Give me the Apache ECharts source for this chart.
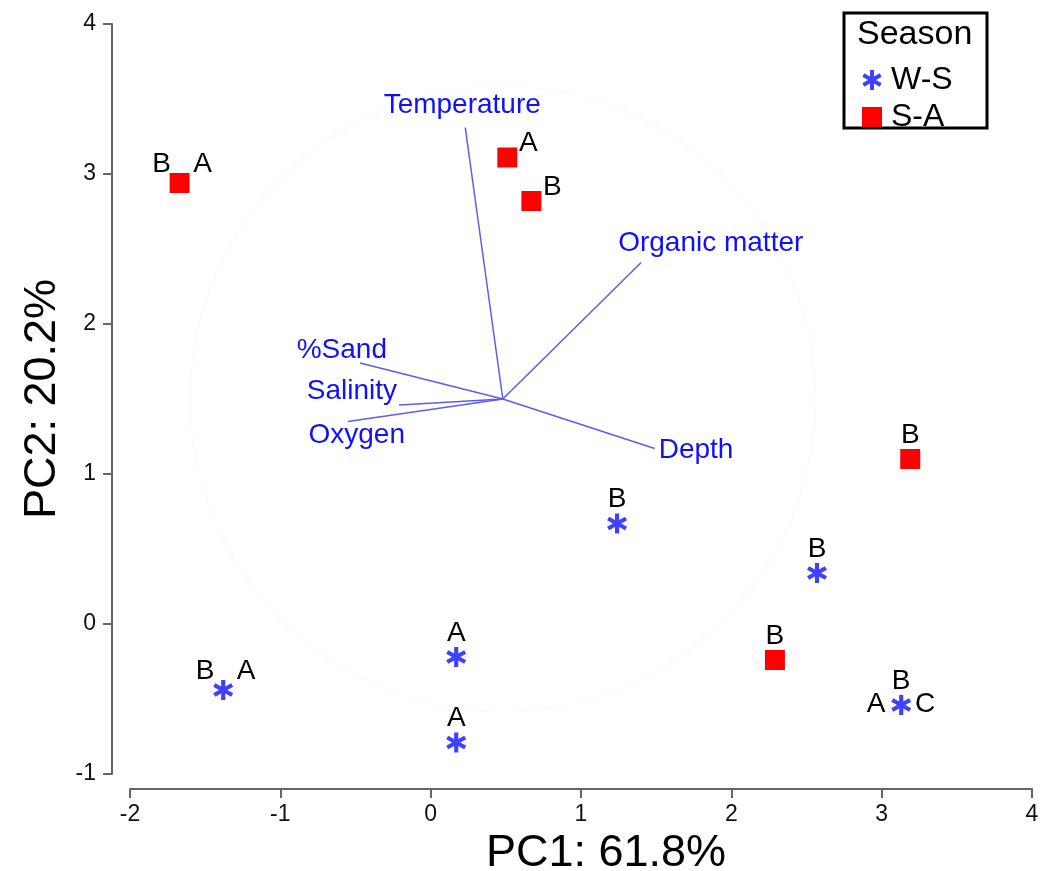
<!DOCTYPE html>
<html>
<head>
<meta charset="utf-8">
<script src="https://cdn.jsdelivr.net/npm/echarts@6/dist/echarts.min.js"></script>
<style>
  html, body { margin: 0; padding: 0; background: #fff; }
  #chart { width: 1054px; height: 871px; }
</style>
</head>
<body>
<div id="chart"></div>
<script>
var FONT = 'Liberation Sans, Arial, sans-serif';

// axis ranges (ticks every 1)
var xRange = [-2, 4];
var yRange = [-1, 4];

// S-A samples (red squares)
var saPoints = [[-1.67, 2.94], [0.51, 3.11], [0.67, 2.82], [3.19, 1.10], [2.29, -0.24]];
var saLabels = [[['B', 'tl'], ['A', 'tr']], [['A', 'ne']], [['B', 'ne']], [['B', 't']], [['B', 't']]];

// W-S samples (blue asterisks)
var wsPoints = [[-1.38, -0.44], [0.17, -0.22], [0.17, -0.79], [1.24, 0.67], [2.57, 0.34], [3.13, -0.54]];
var wsLabels = [[['B', 'tl'], ['A', 'tr']], [['A', 't']], [['A', 't']], [['B', 't']], [['B', 't']], [['A', 'l'], ['B', 't'], ['C', 'r']]];

// environmental vectors
var vecOrigin = [0.48, 1.50];
var vecNames = ['Temperature', 'Organic matter', 'Depth', '%Sand', 'Salinity', 'Oxygen'];
var vecEnds = [[0.23, 3.31], [1.40, 2.41], [1.49, 1.17], [-0.47, 1.74], [-0.21, 1.46], [-0.55, 1.35]];
var circleRadius = 2.08;

// label placement styles (px offsets)
var labelOffsets = { tl: [-18, -19], tr: [23, -19], ne: [21, -14], t: [0, -24], l: [-25, -1], r: [24, -1] };
var vecLabelStyle = {
  'Temperature': { align: 'center', dx: -3, dy: -22 },
  'Organic matter': { align: 'left', dx: -23, dy: -19 },
  'Depth': { align: 'left', dx: 4, dy: 2 },
  '%Sand': { align: 'right', dx: 27, dy: -13 },
  'Salinity': { align: 'right', dx: -2, dy: -14 },
  'Oxygen': { align: 'right', dx: 57, dy: 14 }
};

var asterisk = 'path://M8 20L12 20L12 0L8 0Z M17.66 16.73L19.66 13.27L2.34 3.27L0.34 6.73Z M0.34 13.27L2.34 16.73L19.66 6.73L17.66 3.27Z';

var chart = echarts.init(document.getElementById('chart'));

function pointLabelSeries(points, labels) {
  return {
    type: 'custom',
    silent: true,
    z: 5,
    data: points.map(function (p, i) { return [p[0], p[1], i]; }),
    renderItem: function (params, api) {
      var c = api.coord([api.value(0), api.value(1)]);
      var list = labels[api.value(2)];
      return {
        type: 'group',
        children: list.map(function (l) {
          var off = labelOffsets[l[1]];
          return {
            type: 'text',
            style: {
              x: c[0] + off[0], y: c[1] + off[1], text: l[0],
              font: '28px ' + FONT, fill: '#000',
              align: 'center', verticalAlign: 'middle'
            }
          };
        })
      };
    }
  };
}

var option = {
  backgroundColor: '#fff',
  animation: false,
  grid: { left: 130, right: 22, top: 24, bottom: 97, outerBoundsMode: 'none' },
  xAxis: {
    type: 'value', min: xRange[0], max: xRange[1], interval: 1,
    offset: 15,
    name: 'PC1: 61.8%', nameLocation: 'middle', nameGap: 40,
    nameTextStyle: { fontFamily: FONT, fontSize: 45, color: '#000', padding: [0, 0, 0, 50] },
    axisLine: { show: true, onZero: false, lineStyle: { color: '#666', width: 2 } },
    axisTick: { show: true, length: 9, lineStyle: { color: '#666', width: 2 } },
    axisLabel: { fontFamily: FONT, fontSize: 23, color: '#111', margin: 14 },
    splitLine: { show: false }
  },
  yAxis: {
    type: 'value', min: yRange[0], max: yRange[1], interval: 1,
    offset: 18,
    name: 'PC2: 20.2%', nameLocation: 'middle', nameGap: 44,
    nameTextStyle: { fontFamily: FONT, fontSize: 45, color: '#000' },
    axisLine: { show: true, onZero: false, lineStyle: { color: '#666', width: 2 } },
    axisTick: { show: true, length: 9, lineStyle: { color: '#666', width: 2 } },
    axisLabel: { fontFamily: FONT, fontSize: 23, color: '#111', margin: 16 },
    splitLine: { show: false }
  },
  legend: {
    orient: 'vertical', left: 857, top: 59,
    itemWidth: 20, itemHeight: 20, itemGap: 5,
    textStyle: { fontFamily: FONT, fontSize: 32, color: '#000', lineHeight: 31, padding: [0, 0, 0, 4] },
    data: ['W-S', 'S-A']
  },
  graphic: [
    {
      type: 'rect', z: -1,
      shape: { x: 844, y: 13, width: 143, height: 115 },
      style: { fill: '#fff', stroke: '#000', lineWidth: 3 }
    },
    {
      type: 'text', left: 857, top: 18,
      style: { text: 'Season', font: '34px ' + FONT, fill: '#000' }
    }
  ],
  series: [
    {
      // faint correlation circle
      type: 'custom', silent: true, z: 1,
      data: [[vecOrigin[0], vecOrigin[1]]],
      renderItem: function (params, api) {
        var c = api.coord([api.value(0), api.value(1)]);
        var r = api.size([circleRadius, 0])[0];
        return { type: 'circle', shape: { cx: c[0], cy: c[1], r: r }, style: { fill: 'none', stroke: '#fbfbfb', lineWidth: 1.5 } };
      }
    },
    {
      // vectors
      type: 'custom', silent: true, z: 2,
      data: vecEnds.map(function (e, i) { return [e[0], e[1], i]; }),
      renderItem: function (params, api) {
        var o = api.coord(vecOrigin);
        var e = api.coord([api.value(0), api.value(1)]);
        var name = vecNames[api.value(2)];
        var s = vecLabelStyle[name];
        return {
          type: 'group',
          children: [
            { type: 'line', shape: { x1: o[0], y1: o[1], x2: e[0], y2: e[1] }, style: { stroke: '#5c5cf0', lineWidth: 1.5 } },
            { type: 'text', style: { x: e[0] + s.dx, y: e[1] + s.dy, text: name, font: '28px ' + FONT, fill: '#1010ff', align: s.align, verticalAlign: 'middle' } }
          ]
        };
      }
    },
    {
      name: 'W-S', type: 'scatter', z: 4,
      symbol: asterisk, symbolSize: 20,
      itemStyle: { color: '#4040ff', opacity: 1 },
      data: wsPoints
    },
    {
      name: 'S-A', type: 'scatter', z: 4,
      symbol: 'rect', symbolSize: 20,
      itemStyle: { color: '#ff0000', opacity: 1 },
      data: saPoints
    },
    pointLabelSeries(wsPoints, wsLabels),
    pointLabelSeries(saPoints, saLabels)
  ]
};

chart.setOption(option);
</script>
</body>
</html>
